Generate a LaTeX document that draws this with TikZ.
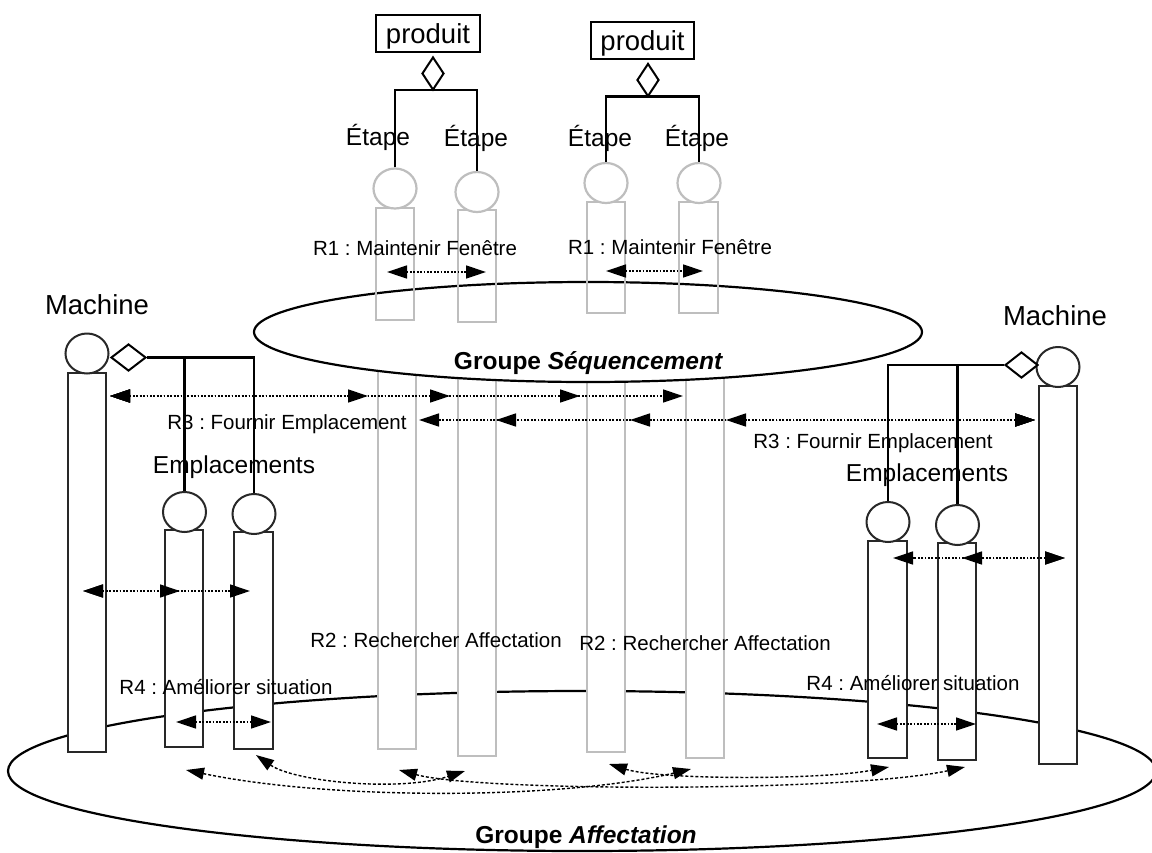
\documentclass[tikz,border=0pt]{standalone}
\usepackage{fontspec}
\setmainfont{Liberation Sans}
\usetikzlibrary{shapes.geometric,arrows.meta}
\definecolor{greyline}{RGB}{190,190,190}
\definecolor{darkline}{RGB}{40,40,40}
\frenchspacing
\begin{document}
\begin{tikzpicture}[x=1pt,y=-1pt,
  ln/.style={line width=2.2pt, draw=black},
  blkbox/.style={rectangle, draw=darkline, line width=2.2pt, fill=white, inner sep=0pt, minimum width=38pt},
  grybox/.style={rectangle, draw=greyline, line width=2.2pt, inner sep=0pt, minimum width=38pt},
  blkcirc/.style={ellipse, draw=darkline, line width=2pt, fill=white, inner sep=0pt, minimum width=43pt, minimum height=40pt},
  grycirc/.style={ellipse, draw=greyline, line width=2.2pt, fill=white, inner sep=0pt, minimum width=43pt, minimum height=40pt},
  agg/.style={diamond, draw=black, line width=2pt, fill=white, inner sep=0pt},
  rlabel/.style={inner sep=0pt, font=\fontsize{20.5}{24}\selectfont},
  biglabel/.style={inner sep=0pt, font=\fontsize{24.5}{28}\selectfont},
  titlelabel/.style={inner sep=0pt, font=\fontsize{27.5}{32}\selectfont},
  grplabel/.style={inner sep=0pt, font=\bfseries\fontsize{24.5}{28}\selectfont},
  link/.style={line width=1.4pt, dash pattern=on 1.8pt off 1.6pt, {Triangle[length=20pt,width=13pt]}-{Triangle[length=20pt,width=13pt]}},
  curvelink/.style={line width=1.4pt, dash pattern=on 3pt off 2pt, {Triangle[length=18pt,width=12pt]}-{Triangle[length=18pt,width=12pt]}},
  group/.style={ellipse, draw=black, line width=2.2pt, inner sep=0pt}
]
\useasboundingbox[fill=white] (0,0) rectangle (1152,852);

% Groupe Affectation
\node[group, minimum width=1148pt, minimum height=160pt] (aff) at (582,771) {};

% lower grey step bars
\node[grybox, fill=white, minimum height=419pt] (L1) at (397,539.5) {};
\node[grybox, fill=white, minimum height=426pt] (L2) at (477,543) {};
\node[grybox, fill=white, minimum height=422pt] (L3) at (606,541) {};
\node[grybox, fill=white, minimum height=428pt] (L4) at (705,544) {};

% black bars
\node[blkbox, minimum height=379pt] (M1) at (87,562.5) {};
\node[blkbox, minimum height=217pt] (E1) at (184,638.5) {};
\node[blkbox, minimum width=39pt, minimum height=217pt] (E2) at (253.5,640.5) {};
\node[blkbox, minimum width=39pt, minimum height=217pt] (E3) at (887.5,649.5) {};
\node[blkbox, minimum height=217pt] (E4) at (957,651.5) {};
\node[blkbox, minimum height=378pt] (M2) at (1058,575) {};

% Groupe Sequencement
\node[group, fill=white, minimum width=668pt, minimum height=100pt] (seq) at (588,332) {};

% upper grey step bars
\node[grybox, minimum height=112pt] (T1) at (395,264) {};
\node[grybox, minimum height=112pt] (T2) at (477,266) {};
\node[grybox, minimum height=111pt] (T3) at (606,257.5) {};
\node[grybox, minimum width=39pt, minimum height=111pt] (T4) at (698.5,257.5) {};

% product structures
\node[titlelabel, draw, line width=1.6pt, minimum width=104pt, minimum height=37pt, text depth=0pt] (prodL) at (428,33.5) {produit};
\node[titlelabel, draw, line width=1.6pt, minimum width=103pt, minimum height=37pt, text depth=0pt] (prodR) at (642.5,40.5) {produit};

\node[grycirc] (G1) at (395,188.5) {};
\node[grycirc] (G2) at (477,192) {};
\node[grycirc] (G3) at (606,183) {};
\node[grycirc] (G4) at (699,183) {};

\draw[ln] (G1.north) |- (433,90) -| (G2.north);
\draw[ln] (G3.north) |- (648,96.5) -| (G4.north);
\node[agg, minimum width=22pt, minimum height=33pt] (dL) at (433,73.5) {};
\node[agg, minimum width=22pt, minimum height=33pt] (dR) at (648,80) {};

% machines and emplacements
\node[blkcirc] (MC1) at (87,353.5) {};
\node[blkcirc] (EC1) at (184.5,512) {};
\node[blkcirc] (EC2) at (254,514) {};
\node[blkcirc] (EC3) at (888,522) {};
\node[blkcirc] (EC4) at (957.5,525) {};
\node[blkcirc] (MC2) at (1058,367) {};

\node[agg, minimum width=35pt, minimum height=27pt] (dM1) at (128.5,357.5) {};
\node[agg, minimum width=33pt, minimum height=26pt] (dM2) at (1021.5,365) {};
\draw[ln] (dM1.east) -| (EC2.north);
\draw[ln] (EC1.north) -- (EC1.north |- dM1.east);
\draw[ln] (dM2.west) -| (EC3.north);
\draw[ln] (EC4.north) -- (EC4.north |- dM2.west);

% labels
\node[titlelabel] (machL) at (97,305) {Machine};
\node[titlelabel] (machR) at (1055,316) {Machine};
\node[biglabel] (et1) at (378,137) {Étape};
\node[biglabel] (et2) at (476,138) {Étape};
\node[biglabel] (et3) at (600,138) {Étape};
\node[biglabel] (et4) at (697,138) {Étape};
\node[biglabel] (empL) at (234,467) {Emplacements};
\node[biglabel] (empR) at (927,475) {Emplacements};
\node[rlabel] (r1a) at (415,248) {R1 : Maintenir Fenêtre};
\node[rlabel] (r1b) at (670,247) {R1 : Maintenir Fenêtre};
\node[rlabel] (r3a) at (287,424) {R3 : Fournir Emplacement};
\node[rlabel] (r3b) at (873,443) {R3 : Fournir Emplacement};
\node[rlabel] (r2a) at (436,640) {R2 : Rechercher Affectation};
\node[rlabel] (r2b) at (705,643) {R2 : Rechercher Affectation};
\node[rlabel] (r4a) at (226,687) {R4 : Améliorer situation};
\node[rlabel] (r4b) at (913,683) {R4 : Améliorer situation};
\node[grplabel] (gs) at (588.5,363) {Groupe \textit{Séquencement}};
\node[grplabel] (ga) at (586,837) {Groupe \textit{Affectation}};

% arrow end points
\coordinate (a1) at (387,272); \coordinate (a2) at (486,272);
\coordinate (a3) at (606,271); \coordinate (a4) at (703,271);
\coordinate (b0) at (110,396); \coordinate (b1) at (368,396);
\coordinate (b2) at (450,396); \coordinate (b3) at (580,396);
\coordinate (b4) at (683,396);
\coordinate (c0) at (1035,420); \coordinate (c1) at (419,420);
\coordinate (c2) at (496,420); \coordinate (c3) at (630,420);
\coordinate (c4) at (726,420);
\coordinate (d0) at (83,591); \coordinate (d1) at (180,591); \coordinate (d2) at (250,591);
\coordinate (e0) at (1065,558); \coordinate (e1) at (893,558); \coordinate (e2) at (962,558);
\coordinate (f1) at (176,722); \coordinate (f2) at (271,722);
\coordinate (f3) at (877,724); \coordinate (f4) at (976,724);
\coordinate (gA1) at (186,770); \coordinate (gA2) at (691,769);
\coordinate (gB1) at (256,755); \coordinate (gB2) at (465,771);
\coordinate (gC1) at (399,770); \coordinate (gC2) at (965,767);
\coordinate (gD1) at (609,764); \coordinate (gD2) at (889,767);

% R1
\draw[link] (a1) -- (a2);
\draw[link] (a3) -- (a4);
% R3
\foreach \t in {b1,b2,b3,b4} \draw[link] (b0) -- (\t);
\foreach \t in {c1,c2,c3,c4} \draw[link] (c0) -- (\t);
% machine - emplacements
\draw[link] (d0) -- (d1);
\draw[link] (d0) -- (d2);
\draw[link] (e0) -- (e1);
\draw[link] (e0) -- (e2);
% R4
\draw[link] (f1) -- (f2);
\draw[link] (f3) -- (f4);
% R2 curved links
\draw[curvelink] (gA1) .. controls (330,800) and (560,800) .. (gA2);
\draw[curvelink] (gB1) .. controls (295,782) and (400,792) .. (gB2);
\draw[curvelink] (gC1) .. controls (480,792) and (850,792) .. (gC2);
\draw[curvelink] (gD1) .. controls (660,780) and (820,780) .. (gD2);
\end{tikzpicture}
\end{document}
